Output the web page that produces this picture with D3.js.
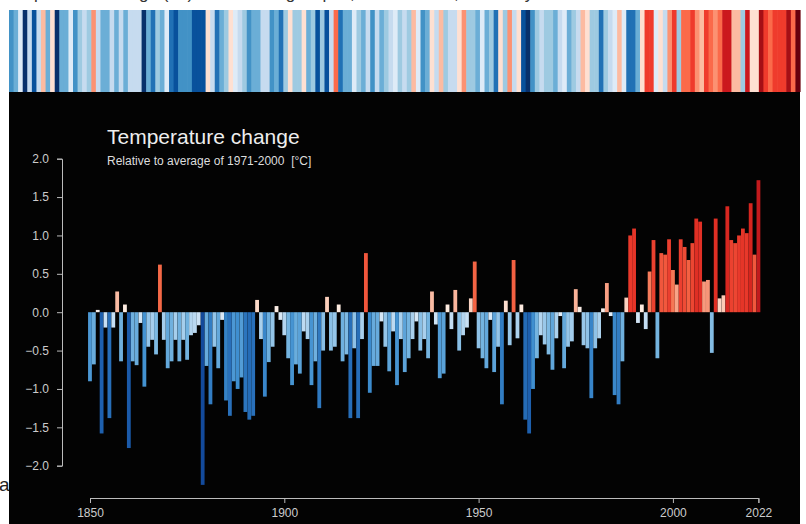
<!DOCTYPE html>
<html>
<head>
<meta charset="utf-8">
<script src="https://cdnjs.cloudflare.com/ajax/libs/d3/7.8.5/d3.min.js"></script>
<style>
  html, body { margin: 0; padding: 0; background: #fff; }
  svg { display: block; font-family: "Liberation Sans", Arial, sans-serif; }
</style>
</head>
<body>
<div id="chart"></div>
<script>
// annual temperature anomaly, relative to 1971-2000, one value per year 1850..2022
var firstYear = 1850, lastYear = 2022;
var anomalies = [
  -0.90, -0.68, 0.03, -1.58, -0.20, -1.38, -0.20, 0.27, -0.64, 0.10,
  -1.77, -0.64, -0.69, -0.14, -0.97, -0.45, -0.36, -0.55, 0.62, -0.36,
  -0.73, -0.64, -0.36, -0.64, -0.36, -0.62, -0.30, -0.27, -0.17, -2.25,
  -0.70, -1.20, -0.45, -0.73, -0.10, -1.15, -1.35, -0.90, -1.00, -0.85,
  -1.30, -1.40, -1.35, 0.16, -0.35, -1.10, -0.65, -0.45, 0.08, -0.10,
  -0.30, -0.60, -0.95, -0.68, -0.80, -0.25, -0.35, -0.95, -0.64, -1.25,
  -0.50, 0.20, -0.50, -0.45, 0.10, -0.64, -0.55, -1.38, -0.47, -1.38,
  -0.35, 0.77, -1.05, -0.70, -0.70, -0.12, -0.45, -0.77, -0.25, -0.95,
  -0.35, -0.78, -0.60, -0.35, -0.12, -0.50, -0.35, -0.60, 0.27, -0.16,
  -0.86, -0.80, 0.10, -0.22, 0.29, -0.50, -0.30, -0.20, 0.18, 0.66,
  -0.47, -0.60, -0.73, -0.10, -0.78, -0.45, -1.20, 0.15, -0.43, 0.68,
  -0.34, 0.10, -1.40, -1.58, -1.00, -0.60, -0.30, -0.42, -0.55, -0.75,
  -0.34, -0.05, -0.73, -0.45, -0.38, 0.30, 0.07, -0.43, -0.47, -1.12,
  -0.47, -0.34, 0.05, 0.38, -0.05, -1.08, -1.20, -0.64, 0.19, 1.00,
  1.09, -0.14, 0.10, -0.22, 0.53, 0.94, -0.60, 0.77, 0.75, 0.95,
  0.55, 0.36, 0.95, 0.85, 0.68, 0.90, 1.22, 1.18, 0.40, 0.42,
  -0.53, 1.22, 0.18, 0.22, 1.38, 0.94, 0.90, 1.00, 1.09, 1.03,
  1.42, 0.75, 1.72
];
var years = d3.range(firstYear, lastYear + 1);
var yTicks = [-2.0, -1.5, -1.0, -0.5, 0.0, 0.5, 1.0, 1.5, 2.0];
var xTicks = [1850, 1900, 1950, 2000, 2022];
var title = "Temperature change";
var subtitle = "Relative to average of 1971-2000  [\u00B0C]";

var data = years.map(function (y, i) { return { year: y, value: anomalies[i] }; });

var width = 806, height = 524;
var svg = d3.select("#chart").append("svg").attr("width", width).attr("height", height);

// heading that is cut off at the top edge, and stray letter at left
svg.append("text")
  .attr("x", 2).attr("y", -1)
  .style("font-size", "17px").style("fill", "#333")
  .text("Temperature change (\u00B0C) and warming stripes, 1850 \u2013 2022, Germany");
svg.append("text")
  .attr("x", -1).attr("y", 491)
  .style("font-size", "19px").style("fill", "#222")
  .text("a");

// stripes
var stripeColors = ["#08306b", "#08519c", "#2171b5", "#4292c6", "#6baed6", "#9ecae1", "#c6dbef", "#deebf7",
                    "#fee0d2", "#fcbba1", "#fc9272", "#fb6a4a", "#ef3b2c", "#cb181d", "#a50f15", "#67000d"];
var stripeColor = d3.scaleQuantize().domain([-1.7, 1.8]).range(stripeColors);
var xs = d3.scaleBand().domain(years).range([9, 800]).padding(0);

svg.append("g").selectAll("rect").data(data).enter().append("rect")
  .attr("x", function (d) { return xs(d.year); })
  .attr("y", 10)
  .attr("width", xs.bandwidth() + 0.6)
  .attr("height", 82)
  .attr("fill", function (d) { return stripeColor(d.value); });

// black panel
svg.append("rect")
  .attr("x", 9).attr("y", 92).attr("width", 791).attr("height", height - 92)
  .attr("fill", "#030303");

// scales
var xYear = d3.scaleLinear().domain([firstYear, lastYear]).range([90, 758.4]);
var step = xYear(firstYear + 1) - xYear(firstYear);
var xb = d3.scaleBand().domain(years).range([xYear(firstYear) - step / 2, xYear(lastYear) + step / 2]).paddingInner(0.02);
var y = d3.scaleLinear().domain([-2, 2]).range([465.7, 158.7]);

var barColor = d3.scaleLinear()
  .domain([-2.3, -1.5, -1.0, -0.6, -0.3, -0.05, 0.1, 0.3, 0.6, 1.0, 1.4, 1.8])
  .range(["#12489a", "#1f63b0", "#3f8fd0", "#74b4e0", "#b3d5ef", "#e4eef8", "#fdebe0", "#f9b298", "#f56b48", "#e9392b", "#d7261f", "#bd171c"])
  .clamp(true);

svg.append("g").selectAll("rect").data(data).enter().append("rect")
  .attr("x", function (d) { return xb(d.year); })
  .attr("y", function (d) { return y(Math.max(0, d.value)); })
  .attr("width", xb.bandwidth())
  .attr("height", function (d) { return Math.abs(y(d.value) - y(0)); })
  .attr("fill", function (d) { return barColor(d.value); });

// y axis
var yAxis = svg.append("g")
  .attr("transform", "translate(62,0)")
  .call(d3.axisLeft(y).tickValues(yTicks).tickSize(5).tickPadding(8).tickFormat(d3.format(".1f")));
yAxis.select(".domain").attr("stroke", "#bbb");
yAxis.selectAll(".tick line").attr("stroke", "#bbb");
yAxis.selectAll("text").style("fill", "#ccc").style("font-size", "12px");

// x axis
var xAxis = svg.append("g")
  .attr("transform", "translate(0,498)")
  .call(d3.axisBottom(xYear).tickValues(xTicks).tickSize(5).tickPadding(5).tickFormat(d3.format("d")));
xAxis.select(".domain").attr("stroke", "#bbb");
xAxis.selectAll(".tick line").attr("stroke", "#bbb");
xAxis.selectAll("text").style("fill", "#ccc").style("font-size", "12px");

// titles
svg.append("text")
  .attr("x", 107).attr("y", 144)
  .style("font-size", "21px").style("fill", "#eee")
  .text(title);
svg.append("text")
  .attr("x", 107).attr("y", 165)
  .style("font-size", "12px").style("fill", "#ddd").style("white-space", "pre")
  .text(subtitle);
</script>
</body>
</html>
